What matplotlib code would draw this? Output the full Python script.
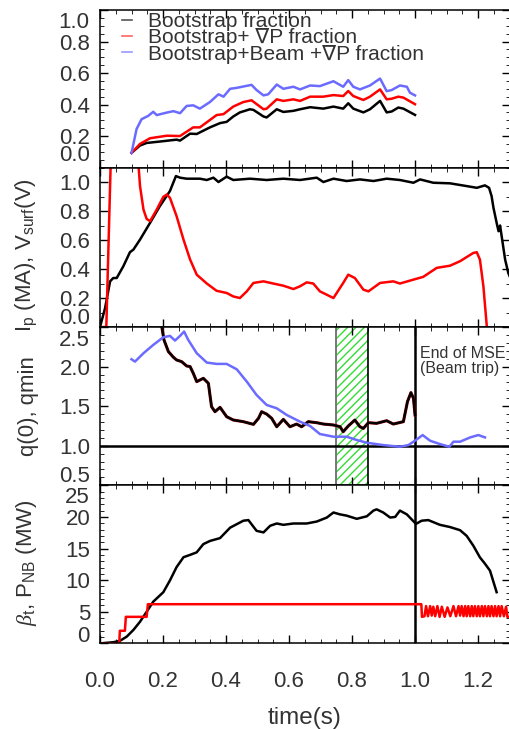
import numpy as np
import matplotlib
matplotlib.use("Agg")
import matplotlib.pyplot as plt
from matplotlib.ticker import MultipleLocator

plt.rcParams.update({
    "font.family": ["Liberation Sans", "DejaVu Sans"],
    "mathtext.fontset": "custom",
    "mathtext.rm": "Liberation Sans",
    "mathtext.it": "Liberation Serif:italic",
    "xtick.direction": "in", "ytick.direction": "in",
    "xtick.top": True, "ytick.right": True,
    "xtick.major.size": 6, "ytick.major.size": 6,
    "xtick.minor.size": 3, "ytick.minor.size": 3,
    "xtick.major.width": 1.0, "ytick.major.width": 1.0,
    "axes.linewidth": 1.1, "hatch.linewidth": 1.0,
})
TXT = "#333333"
BLUE = "#6b6bff"
TICK_FS = 16
LAB_FS = 16

# ---- panel 1: current fractions ----
frac_t_bs = [0.100, 0.127, 0.148, 0.190, 0.243, 0.254, 0.286, 0.307, 0.349, 0.381, 0.402,
             0.423, 0.444, 0.476, 0.487, 0.519, 0.529, 0.561, 0.582, 0.614, 0.635, 0.667,
             0.709, 0.741, 0.772, 0.788, 0.804, 0.836, 0.857, 0.889, 0.910, 0.926, 0.947,
             0.963, 1.000]
frac_bs = [0.093, 0.140, 0.156, 0.165, 0.177, 0.171, 0.215, 0.213, 0.255, 0.282, 0.290,
           0.324, 0.350, 0.370, 0.366, 0.324, 0.318, 0.370, 0.353, 0.360, 0.370, 0.383,
           0.374, 0.387, 0.374, 0.408, 0.374, 0.350, 0.370, 0.423, 0.350, 0.356, 0.381,
           0.374, 0.334]
frac_t_gp = [0.100, 0.127, 0.159, 0.212, 0.254, 0.296, 0.317, 0.370, 0.392, 0.423, 0.455,
             0.481, 0.519, 0.529, 0.561, 0.582, 0.614, 0.635, 0.667, 0.709, 0.741, 0.772,
             0.788, 0.804, 0.836, 0.857, 0.889, 0.910, 0.926, 0.947, 0.963, 1.000]
frac_gp = [0.093, 0.150, 0.186, 0.202, 0.200, 0.255, 0.255, 0.333, 0.339, 0.387, 0.416,
           0.427, 0.370, 0.374, 0.433, 0.423, 0.433, 0.423, 0.450, 0.450, 0.460, 0.454,
           0.486, 0.454, 0.429, 0.450, 0.496, 0.433, 0.437, 0.450, 0.444, 0.402]
frac_t_all = [0.100, 0.116, 0.132, 0.153, 0.169, 0.180, 0.212, 0.233, 0.254, 0.275, 0.296,
              0.317, 0.349, 0.376, 0.392, 0.413, 0.434, 0.481, 0.497, 0.519, 0.534, 0.561,
              0.582, 0.614, 0.635, 0.667, 0.698, 0.741, 0.772, 0.788, 0.804, 0.825, 0.857,
              0.889, 0.910, 0.926, 0.952, 0.974, 0.984, 1.000]
frac_all = [0.093, 0.244, 0.307, 0.328, 0.354, 0.333, 0.349, 0.358, 0.345, 0.391, 0.395,
            0.374, 0.416, 0.465, 0.450, 0.500, 0.506, 0.525, 0.492, 0.458, 0.465, 0.527,
            0.500, 0.513, 0.496, 0.521, 0.517, 0.548, 0.513, 0.555, 0.513, 0.496, 0.521,
            0.565, 0.485, 0.492, 0.521, 0.513, 0.475, 0.458]

# ---- panel 2: plasma current and surface voltage ----
ip_t = [0.000, 0.016, 0.032, 0.042, 0.053, 0.074, 0.095, 0.106, 0.127, 0.159, 0.190, 0.222,
        0.241, 0.254, 0.275, 0.317, 0.339, 0.360, 0.376, 0.402, 0.423, 0.476, 0.529, 0.582,
        0.635, 0.688, 0.709, 0.741, 0.783, 0.825, 0.868, 0.910, 0.952, 0.995, 1.016, 1.058,
        1.111, 1.164, 1.196, 1.222, 1.235, 1.243, 1.249, 1.259, 1.265, 1.270, 1.275, 1.286,
        1.296, 1.310]
ip = [0.000, 0.130, 0.315, 0.338, 0.338, 0.419, 0.516, 0.534, 0.603, 0.719, 0.834, 0.938,
      1.041, 1.030, 1.023, 1.023, 1.014, 1.030, 1.000, 1.037, 1.014, 1.023, 1.014, 1.023,
      1.014, 1.030, 1.000, 1.023, 1.007, 1.018, 1.007, 1.023, 1.014, 0.995, 1.018, 0.995,
      0.991, 0.972, 0.960, 0.977, 0.960, 0.903, 0.822, 0.719, 0.661, 0.700, 0.626, 0.465,
      0.373, 0.300]
vs_t = [0.000, 0.020, 0.036, 0.116, 0.127, 0.138, 0.148, 0.159, 0.180, 0.201, 0.212, 0.222,
        0.243, 0.265, 0.286, 0.307, 0.339, 0.370, 0.402, 0.423, 0.444, 0.466, 0.487, 0.519,
        0.550, 0.582, 0.614, 0.635, 0.656, 0.677, 0.698, 0.741, 0.772, 0.788, 0.809, 0.836,
        0.852, 0.889, 0.931, 0.952, 0.995, 1.026, 1.069, 1.111, 1.143, 1.185, 1.196, 1.206,
        1.217, 1.228, 1.240]
vs = [0.000, 0.000, 1.300, 1.300, 0.972, 0.810, 0.746, 0.730, 0.810, 0.898, 0.914, 0.891,
      0.765, 0.603, 0.465, 0.361, 0.300, 0.250, 0.235, 0.211, 0.200, 0.246, 0.304, 0.315,
      0.300, 0.285, 0.262, 0.281, 0.308, 0.300, 0.246, 0.200, 0.304, 0.361, 0.338, 0.258,
      0.246, 0.304, 0.315, 0.300, 0.327, 0.346, 0.408, 0.423, 0.454, 0.511, 0.516, 0.465,
      0.281, 0.000, -0.200]

# ---- panel 3: q(0) and qmin ----
q0_t = [0.188, 0.203, 0.217, 0.233, 0.243, 0.259, 0.275, 0.286, 0.296, 0.307, 0.328, 0.344,
        0.354, 0.365, 0.381, 0.402, 0.423, 0.455, 0.487, 0.503, 0.513, 0.529, 0.545, 0.561,
        0.582, 0.603, 0.624, 0.640, 0.661, 0.688, 0.709, 0.741, 0.762, 0.772, 0.788, 0.809,
        0.825, 0.836, 0.852, 0.878, 0.910, 0.931, 0.963, 0.976, 0.987, 0.995, 1.000]
q0 = [2.700, 2.338, 2.190, 2.118, 2.084, 2.063, 2.008, 2.000, 1.916, 1.810, 1.852, 1.789,
      1.494, 1.430, 1.485, 1.367, 1.325, 1.304, 1.270, 1.346, 1.430, 1.400, 1.346, 1.240,
      1.333, 1.240, 1.274, 1.240, 1.304, 1.291, 1.274, 1.262, 1.240, 1.177, 1.249, 1.325,
      1.240, 1.219, 1.291, 1.283, 1.316, 1.274, 1.304, 1.557, 1.671, 1.599, 1.388]
qmin_t = [0.100, 0.111, 0.138, 0.169, 0.201, 0.222, 0.238, 0.254, 0.267, 0.280, 0.307, 0.339,
          0.370, 0.402, 0.434, 0.466, 0.497, 0.529, 0.561, 0.593, 0.635, 0.667, 0.698, 0.741,
          0.783, 0.815, 0.847, 0.899, 0.952, 0.979, 1.003, 1.024, 1.048, 1.079, 1.109, 1.122,
          1.143, 1.175, 1.201, 1.222]
qmin = [2.093, 2.063, 2.169, 2.274, 2.371, 2.388, 2.329, 2.388, 2.443, 2.338, 2.169, 2.051,
        2.034, 2.034, 1.966, 1.810, 1.641, 1.515, 1.473, 1.388, 1.304, 1.249, 1.148, 1.114,
        1.114, 1.072, 1.038, 1.008, 0.987, 1.008, 1.072, 1.135, 1.063, 1.021, 0.987, 1.051,
        1.051, 1.105, 1.135, 1.105]

# ---- panel 4: beta_t and neutral beam power ----
beta_t = [0.000, 0.042, 0.063, 0.085, 0.106, 0.127, 0.148, 0.169, 0.201, 0.222, 0.243, 0.265,
          0.286, 0.307, 0.328, 0.349, 0.381, 0.413, 0.434, 0.455, 0.471, 0.497, 0.519, 0.540,
          0.561, 0.582, 0.614, 0.656, 0.688, 0.720, 0.741, 0.762, 0.783, 0.815, 0.847, 0.868,
          0.878, 0.899, 0.921, 0.937, 0.952, 0.974, 1.003, 1.021, 1.042, 1.079, 1.111, 1.143,
          1.164, 1.185, 1.206, 1.222, 1.238, 1.259]
beta = [0.0, 0.19, 0.4, 1.08, 2.13, 3.43, 5.0, 6.6, 8.1, 9.96, 12.06, 13.63, 14.0, 14.4, 15.7,
        16.2, 16.65, 18.3, 18.85, 19.4, 19.5, 17.8, 17.55, 18.6, 18.96, 18.75, 18.96, 18.96,
        19.27, 19.9, 20.7, 20.4, 20.2, 19.7, 20.1, 21.0, 21.2, 20.7, 19.9, 20.0, 21.0, 20.4,
        18.9, 19.4, 19.5, 18.75, 18.4, 17.9, 17.0, 15.45, 13.6, 12.6, 11.5, 8.1]
pnb_t = [0.000, 0.061, 0.063, 0.079, 0.082, 0.148, 0.152, 1.020, 1.022, 1.030, 1.035, 1.041,
         1.048, 1.053, 1.058, 1.064, 1.071, 1.078, 1.085, 1.094, 1.103, 1.112, 1.122, 1.130,
         1.138, 1.143, 1.148, 1.154, 1.159, 1.164, 1.169, 1.175, 1.180, 1.185, 1.190, 1.196,
         1.201, 1.206, 1.212, 1.217, 1.222, 1.228, 1.233, 1.238, 1.243, 1.249, 1.254, 1.259,
         1.265, 1.270, 1.275, 1.282, 1.289, 1.293, 1.300]
pnb = [0.0, 0.0, 2.0, 2.0, 4.2, 4.2, 6.2, 6.2, 4.2, 4.3, 5.9, 4.3, 5.9, 4.4, 5.8, 4.3, 5.9,
       4.2, 5.8, 4.2, 5.7, 4.3, 5.9, 4.3, 5.9, 4.4, 5.9, 4.3, 5.9, 4.3, 5.9, 4.3, 5.9, 4.3,
       5.9, 4.3, 5.9, 4.3, 5.9, 4.3, 5.9, 4.3, 5.9, 4.3, 5.9, 4.3, 5.9, 4.3, 5.9, 4.3, 5.9,
       4.3, 5.8, 4.2, 4.2]

t_mse_end = 1.0
win_lo, win_hi = 0.75, 0.85

fig = plt.figure(figsize=(5.10, 7.29), dpi=100)
L, W = 0.1961, 0.803
ax1 = fig.add_axes([L, 0.7702, W, 0.2160])
ax2 = fig.add_axes([L, 0.5514, W, 0.2188])
ax3 = fig.add_axes([L, 0.3343, W, 0.2171])
ax4 = fig.add_axes([L, 0.1174, W, 0.2169])
LW = 1.8

def style(ax, ylim, major, minor, labels, shifted):
    ax.set_xlim(0, 1.3)
    ax.set_ylim(*ylim)
    ax.xaxis.set_major_locator(MultipleLocator(0.2))
    ax.xaxis.set_minor_locator(MultipleLocator(0.05))
    ax.yaxis.set_minor_locator(MultipleLocator(minor))
    ax.set_yticks(major)
    ax.set_yticklabels([lab if v not in shifted else "" for v, lab in zip(major, labels)])
    ax.tick_params(axis="both", which="both", labelsize=TICK_FS, labelcolor=TXT, pad=7)
    # end labels pulled inward, as in the original
    for v, dy in shifted.items():
        lab = labels[major.index(v)]
        ax.annotate(lab, xy=(0, v), xycoords=("axes fraction", "data"),
                    xytext=(-7.5, dy * 0.72), textcoords="offset points",
                    ha="right", va="center", fontsize=TICK_FS, color=TXT)
    if ax is not ax4:
        ax.tick_params(axis="x", labelbottom=False)

# panel 1
ax1.plot(frac_t_bs, frac_bs, color="black", lw=LW, label="Bootstrap fraction")
ax1.plot(frac_t_gp, frac_gp, color="red", lw=LW, label="Bootstrap+ \u2207P fraction")
ax1.plot(frac_t_all, frac_all, color=BLUE, lw=LW, label="Bootstrap+Beam +\u2207P fraction")
style(ax1, (0, 1.0), [0.0, 0.2, 0.4, 0.6, 0.8, 1.0], 0.05,
      ["0.0", "0.2", "0.4", "0.6", "0.8", "1.0"], {0.0: 12, 1.0: -12})
leg = ax1.legend(loc="upper left", bbox_to_anchor=(0.054, 0.988), frameon=False,
                 fontsize=15, handlelength=0.45, handletextpad=0.8,
                 labelspacing=-0.13, borderpad=0, borderaxespad=0)
for h, c in zip(leg.get_lines(), ["#555555", "#ff6666", "#9999ff"]):
    h.set_linewidth(1.2); h.set_color(c)
for txt in leg.get_texts():
    txt.set_color(TXT)

# panel 2
ax2.plot(ip_t, ip, color="black", lw=LW)
ax2.plot(vs_t, vs, color="red", lw=LW)
style(ax2, (0, 1.1), [0.0, 0.2, 0.4, 0.6, 0.8, 1.0], 0.1,
      ["0.0", "0.2", "0.4", "0.6", "0.8", "1.0"], {0.0: 9})
ax2.set_ylabel(r"I$_{\rm p}$ (MA), V$_{\rm surf}$(V)", fontsize=LAB_FS, color=TXT)
ax2.yaxis.set_label_coords(-0.15, 0.45)

# panel 3
ax3.axvspan(win_lo, win_hi, facecolor="none", edgecolor="#33dd33", hatch="////", lw=0)
ax3.axvline(win_lo, color="#777777", lw=1.4)
ax3.axvline(win_hi, color="black", lw=1.2)
ax3.axhline(1.0, color="black", lw=1.8)
ax3.axvline(t_mse_end, color="black", lw=1.8)
ax3.plot(q0_t, q0, color="#8a0000", lw=LW + 0.4)
ax3.plot(q0_t, q0, color="black", lw=LW - 0.2)
ax3.plot(qmin_t, qmin, color=BLUE, lw=LW)
style(ax3, (0.5, 2.5), [0.5, 1.0, 1.5, 2.0, 2.5], 0.1,
      ["0.5", "1.0", "1.5", "2.0", "2.5"], {0.5: 9, 2.5: -13})
ax3.text(1.016, 2.07, "End of MSE\n(Beam trip)", fontsize=11.5, color=TXT,
         va="center", ha="left", linespacing=1.0)
ax3.set_ylabel("q(0), qmin", fontsize=LAB_FS, color=TXT)
ax3.yaxis.set_label_coords(-0.15, 0.5)

# panel 4
ax4.axvline(t_mse_end, color="black", lw=1.8)
ax4.plot(beta_t, beta, color="black", lw=LW)
ax4.plot(pnb_t, pnb, color="red", lw=LW)
style(ax4, (0, 25), [0, 5, 10, 15, 20, 25], 1,
      ["0", "5", "10", "15", "20", "25"], {0: 7, 25: -12})
ax4.set_ylabel(r"$\beta_{\rm t}$, P$_{\rm NB}$ (MW)", fontsize=LAB_FS, color=TXT)
ax4.yaxis.set_label_coords(-0.15, 0.51)
ax4.set_xticks([0.0, 0.2, 0.4, 0.6, 0.8, 1.0, 1.2])
ax4.set_xticklabels(["0.0", "0.2", "0.4", "0.6", "0.8", "1.0", "1.2"])
ax4.tick_params(axis="x", pad=20)
ax4.set_xlabel("time(s)", fontsize=17.5, color=TXT, labelpad=11)

fig.savefig("out.png", dpi=100)
